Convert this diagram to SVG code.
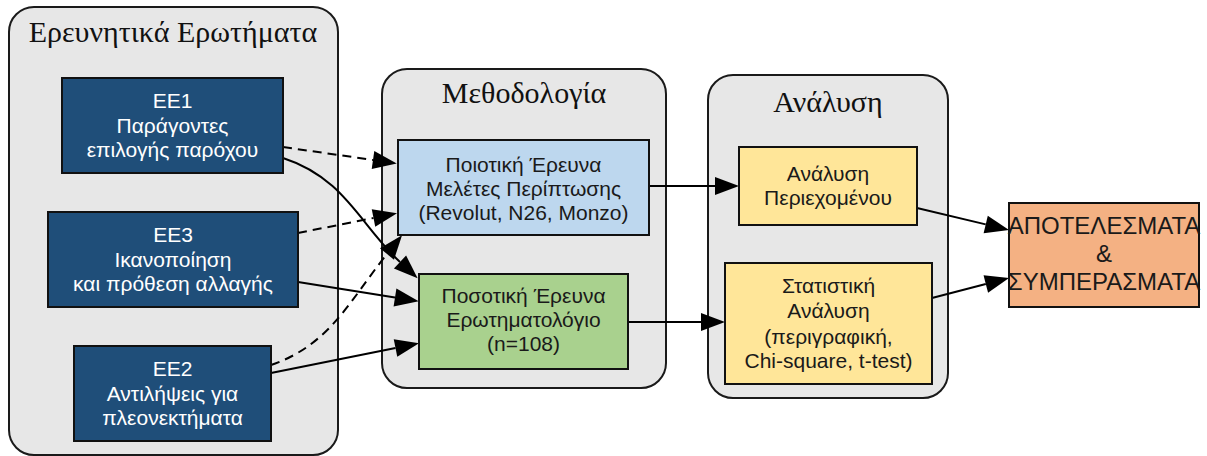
<svg xmlns="http://www.w3.org/2000/svg" width="1207" height="456" viewBox="0 0 1207 456">
  <style>
    .cluster { fill: #e7e7e7; stroke: #1a1a1a; stroke-width: 2; }
    .ctitle { font-family: "Liberation Serif", "DejaVu Serif", serif; font-size: 30px; fill: #111; text-anchor: middle; }
    .box { stroke: #111; stroke-width: 2; }
    .rq { fill: #1f4e79; }
    .qual { fill: #bdd7ee; }
    .quant { fill: #a9d18e; }
    .ana { fill: #ffe699; }
    .res { fill: #f4b183; }
    .lbl { font-family: "Liberation Sans", Arial, sans-serif; font-size: 21px; text-anchor: middle; fill: #1a1a1a; }
    .lbl.w { fill: #ffffff; }
    .lbl.big { font-size: 24px; }
    .edge { fill: none; stroke: #000; stroke-width: 2; marker-end: url(#head); }
    .dash { stroke-dasharray: 9 6; }
  </style>
  <defs>
    <marker id="head" markerUnits="userSpaceOnUse" markerWidth="24" markerHeight="18" refX="0" refY="9" orient="auto" overflow="visible">
      <path d="M0,0 L24,9 L0,18 Z" fill="#000"/>
    </marker>
  </defs>
  <rect width="1207" height="456" fill="#ffffff"/>

  <!-- clusters -->
  <g id="cluster-questions">
    <rect class="cluster" x="9" y="7" width="329" height="448" rx="25"/>
    <text class="ctitle" x="173" y="42">Ερευνητικά Ερωτήματα</text>
  </g>
  <g id="cluster-method">
    <rect class="cluster" x="382" y="69" width="284" height="319" rx="25"/>
    <text class="ctitle" x="524" y="103">Μεθοδολογία</text>
  </g>
  <g id="cluster-analysis">
    <rect class="cluster" x="708" y="75" width="240" height="323" rx="25"/>
    <text class="ctitle" x="828" y="112">Ανάλυση</text>
  </g>

  <!-- connectors -->
  <g id="connectors">
    <path class="edge dash" d="M283,147 L373,160"/>
    <path class="edge dash" d="M298,233 L373.5,218"/>
    <path class="edge dash" d="M271,365 C330,345 350,300 387,254"/>
    <path class="edge" d="M283,158 C345,178 360,225 400,262"/>
    <path class="edge" d="M298,282 L395,297.5"/>
    <path class="edge" d="M271,373 L395.5,348"/>
    <path class="edge" d="M649,186 L715,186"/>
    <path class="edge" d="M628,322 L701,322"/>
    <path class="edge" d="M917,208 L985.7,224.4"/>
    <path class="edge" d="M932,298 L985.8,284"/>
  </g>

  <!-- nodes -->
  <g id="ee1">
    <rect class="box rq" x="62" y="78" width="221" height="95"/>
    <text class="lbl w" x="172.5" y="108">EE1</text>
    <text class="lbl w" x="172.5" y="133">Παράγοντες</text>
    <text class="lbl w" x="172.5" y="157">επιλογής παρόχου</text>
  </g>
  <g id="ee3">
    <rect class="box rq" x="48" y="212" width="250" height="95"/>
    <text class="lbl w" x="173" y="242">EE3</text>
    <text class="lbl w" x="173" y="267">Ικανοποίηση</text>
    <text class="lbl w" x="173" y="291">και πρόθεση αλλαγής</text>
  </g>
  <g id="ee2">
    <rect class="box rq" x="74" y="346" width="197" height="95"/>
    <text class="lbl w" x="172.5" y="376">EE2</text>
    <text class="lbl w" x="172.5" y="401">Αντιλήψεις για</text>
    <text class="lbl w" x="172.5" y="425">πλεονεκτήματα</text>
  </g>
  <g id="qualitative">
    <rect class="box qual" x="398" y="140" width="251" height="95"/>
    <text class="lbl" x="523.5" y="172">Ποιοτική Έρευνα</text>
    <text class="lbl" x="523.5" y="196">Μελέτες Περίπτωσης</text>
    <text class="lbl" x="523.5" y="220">(Revolut, N26, Monzo)</text>
  </g>
  <g id="quantitative">
    <rect class="box quant" x="419" y="274" width="209" height="95"/>
    <text class="lbl" x="523.5" y="303">Ποσοτική Έρευνα</text>
    <text class="lbl" x="523.5" y="327">Ερωτηματολόγιο</text>
    <text class="lbl" x="523.5" y="351">(n=108)</text>
  </g>
  <g id="content-analysis">
    <rect class="box ana" x="739" y="147" width="178" height="78"/>
    <text class="lbl" x="828" y="181">Ανάλυση</text>
    <text class="lbl" x="828" y="205">Περιεχομένου</text>
  </g>
  <g id="statistical-analysis">
    <rect class="box ana" x="725" y="263" width="207" height="121"/>
    <text class="lbl" x="828.5" y="293">Στατιστική</text>
    <text class="lbl" x="828.5" y="318">Ανάλυση</text>
    <text class="lbl" x="828.5" y="344">(περιγραφική,</text>
    <text class="lbl" x="828.5" y="368">Chi-square, t-test)</text>
  </g>
  <g id="results">
    <rect class="box res" x="1009" y="203" width="190" height="104"/>
    <text class="lbl big" x="1104" y="234">ΑΠΟΤΕΛΕΣΜΑΤΑ</text>
    <text class="lbl big" x="1104" y="262">&amp;</text>
    <text class="lbl big" x="1104" y="290">ΣΥΜΠΕΡΑΣΜΑΤΑ</text>
  </g>
</svg>
